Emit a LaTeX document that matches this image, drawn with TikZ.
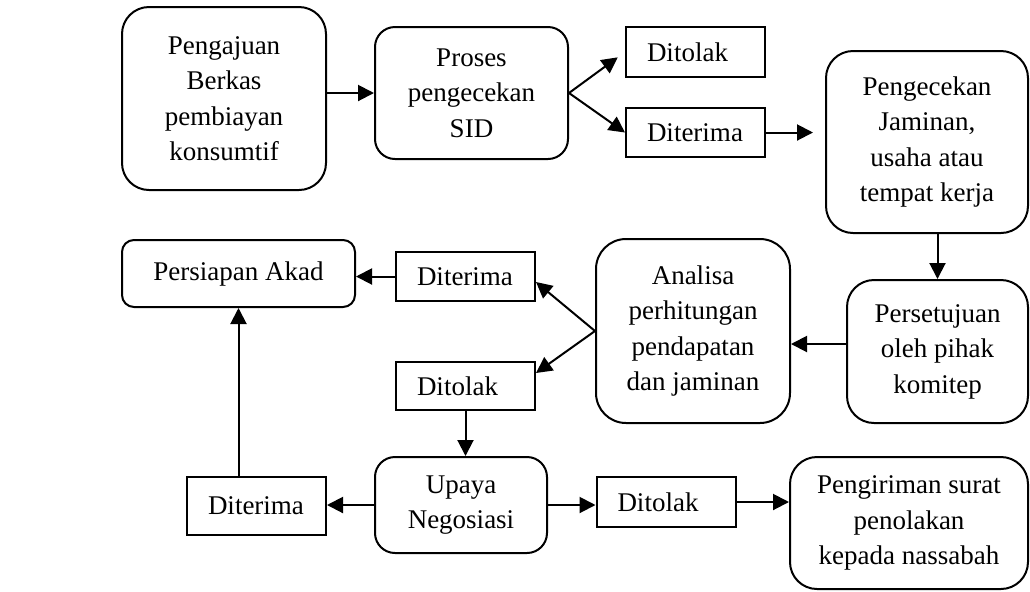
\documentclass[tikz,border=0pt]{standalone}
\usepackage{fontspec}
\setmainfont{Liberation Serif}
\usetikzlibrary{arrows.meta}

\begin{document}
\begin{tikzpicture}[
  x=0.5pt, y=-0.5pt,
  every node/.style={font=\fontsize{13.5}{17.75}\selectfont},
  rbox/.style={draw,line width=1pt,align=center,inner sep=0pt,rounded corners=#1},
  rbox/.default=13.5pt,
  sbox/.style={draw,line width=1pt,align=left,inner xsep=10.5pt,inner ysep=0pt,text width=48.5pt,minimum height=#1},
  sbox/.default=25pt,
  arr/.style={-{Triangle[length=8pt,width=8pt]},line width=1pt}
  ]
\useasboundingbox (0,0) rectangle (1030,591);
\node[rbox,minimum width=102pt,minimum height=91.5pt] (ajuan) at (224,98.5) {Pengajuan\\Berkas\\pembiayan\\konsumtif};          % start
\node[rbox=10pt,minimum width=96.5pt,minimum height=66pt] (proses) at (471.5,93) {Proses\\pengecekan\\SID};                  % SID check
\node[sbox] (tolak1) at (695.5,52) {Ditolak};
\node[sbox=24.5pt] (terima1) at (695.5,132.5) {Diterima};
\node[rbox,minimum width=101pt,minimum height=91pt] (jaminan) at (927,142) {Pengecekan\\Jaminan,\\usaha atau\\tempat kerja};
\node[rbox,minimum width=90.5pt,minimum height=71.5pt] (setuju) at (937.5,351.5) {Persetujuan\\oleh pihak\\komitep};
\node[rbox=15pt,minimum width=97pt,minimum height=92pt] (analisa) at (693,331) {Analisa\\perhitungan\\pendapatan\\dan jaminan};
\node[rbox=6pt,minimum width=116.5pt,minimum height=33.5pt] (akad) at (238.5,273.5) {Persiapan Akad};                       % end
\node[sbox=24.5pt] (terima2) at (465.5,276.5) {Diterima};
\node[sbox=24pt] (tolak2) at (465.5,386) {Ditolak};
\node[rbox=10pt,minimum width=86pt,minimum height=48pt] (upaya) at (461,505) {Upaya\\Negosiasi};
\node[sbox=29pt] (terima3) at (256.5,506) {Diterima};
\node[sbox] (tolak3) at (666,502) {Ditolak};
\node[rbox,minimum width=119pt,minimum height=66pt] (kirim) at (909,523) {Pengiriman surat\\penolakan\\kepada nassabah};
\draw[arr] (ajuan.east |- proses.west) -- (proses.west);
\draw[arr,shorten >=4.5pt] (proses.east) -- (tolak1.west);
\draw[arr] (proses.east) -- (terima1.west);
\draw[arr,shorten >=6pt] (terima1.east) -- (terima1.east -| jaminan.west);
\draw[arr] (jaminan.south -| setuju.north) -- (setuju.north);
\draw[arr] ([yshift=3.75pt]setuju.west) -- ([yshift=3.75pt]setuju.west -| analisa.east);
\draw[arr] (analisa.west) -- ([yshift=-2.75pt]terima2.east);                                  % analysis accepted
\draw[arr] (analisa.west) -- ([yshift=6.5pt]tolak2.east);                                     % analysis rejected
\draw[arr] (terima2.west) -- (terima2.west -| akad.east);
\draw[arr] (tolak2.south) -- (tolak2.south |- upaya.north);
\draw[arr] (upaya.west) -- (upaya.west -| terima3.east);
\draw[arr] (terima3.north -| akad.south) -- (akad.south);
\draw[arr] (upaya.east) -- (upaya.east -| tolak3.west);
\draw[arr] (tolak3.east) -- (tolak3.east -| kirim.west);
\end{tikzpicture}
\end{document}
